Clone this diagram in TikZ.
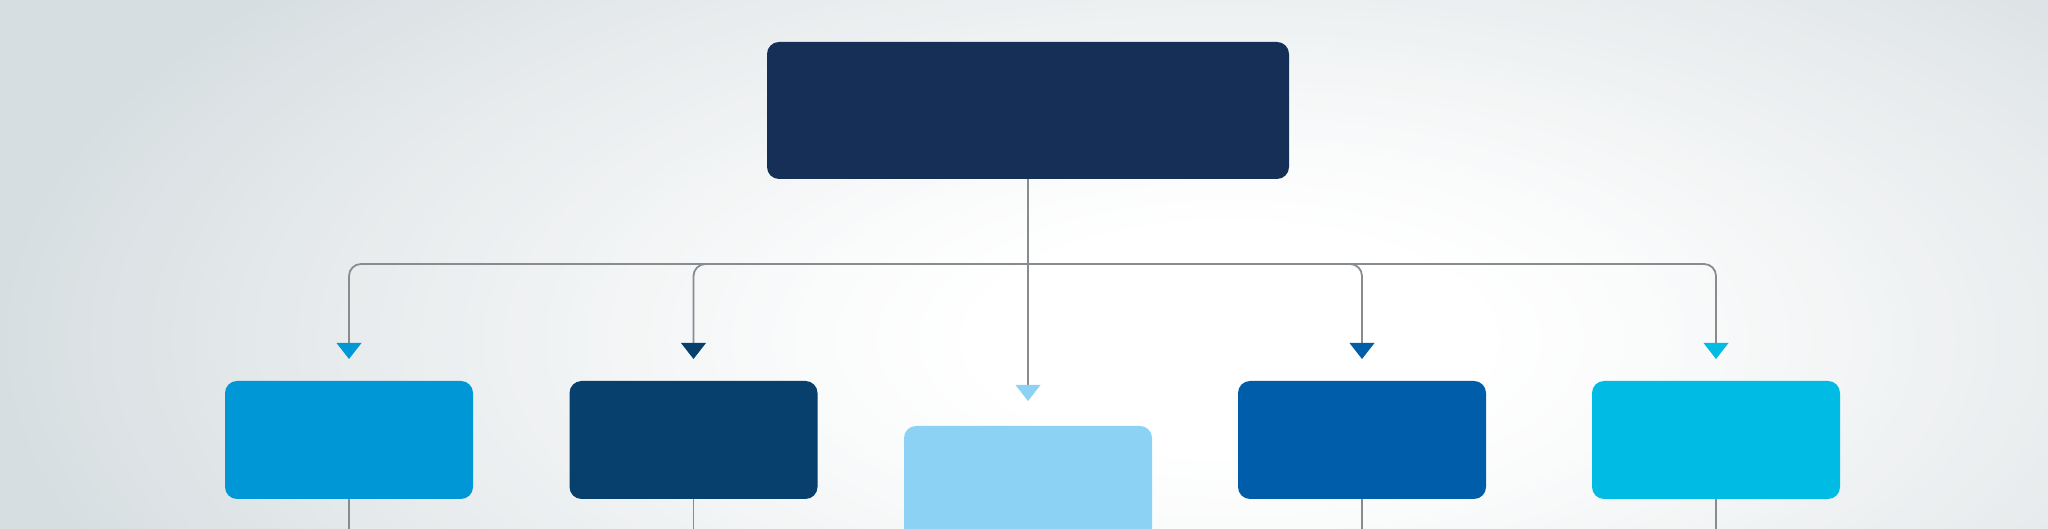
\documentclass[tikz,border=0pt]{standalone}
\usetikzlibrary{calc}
\definecolor{topc}{HTML}{152F57}
\definecolor{cA}{HTML}{0097D7}
\definecolor{cB}{HTML}{07406D}
\definecolor{cC}{HTML}{8CD2F4}
\definecolor{cD}{HTML}{005DAA}
\definecolor{cE}{HTML}{00BBE3}
\definecolor{linec}{HTML}{878C91}
\definecolor{bgout}{HTML}{D7DEE1}
\tikzset{
  box/.style={rectangle, rounded corners=12pt, inner sep=0pt, draw=none},
  topbox/.style={box, fill=topc, minimum width=522pt, minimum height=137pt},
  childbox/.style={box, minimum width=248pt, minimum height=118pt},
  conn/.style={draw=linec, line width=1.8pt}
}
\newcommand{\droptri}[2]{\fill[#2] ($(#1)+(-12.5,0)$) -- ($(#1)+(12.5,0)$) -- ($(#1)+(0,-16)$) -- cycle;}
\begin{document}
\begin{tikzpicture}[x=1pt,y=1pt]
\useasboundingbox (0,0) rectangle (2048,529);
\begin{scope}
\clip (0,0) rectangle (2048,529);
\fill[bgout] (0,0) rectangle (2048,529);
\foreach \i in {1,...,64}{
  \pgfmathsetmacro\s{1.06*(1-\i/64)+0.001}
  \pgfmathsetmacro\f{100*min(pow(max((\s-0.2)/0.8,0.001),1.2),1)}
  \fill[bgout!\f!white] (1230,189) ellipse [x radius=1250*\s, y radius=560*\s];
}
\node[topbox] (top) at (1028,418.5) {};
\node[childbox, fill=cA] (b1) at (349,89) {};
\node[childbox, fill=cB] (b2) at (693.5,89) {};
\node[childbox, fill=cC, minimum height=160pt] (b3) at (1028,23) {};
\node[childbox, fill=cD] (b4) at (1362,89) {};
\node[childbox, fill=cE] (b5) at (1716,89) {};
\coordinate (bus) at (1028,265);
\coordinate (a1) at (349,186);
\coordinate (a2) at (693.5,186);
\coordinate (a3) at (1028,144);
\coordinate (a4) at (1362,186);
\coordinate (a5) at (1716,186);
\coordinate (bot) at (1028,-5);
% connectors
\draw[conn] (top.south) -- (a3);
\draw[conn, rounded corners=12pt] (a1) -- (a1 |- bus) -- (a5 |- bus) -- (a5);
\draw[conn, rounded corners=12pt] ($(a2 |- bus)+(20,0)$) -- (a2 |- bus) -- (a2);
\draw[conn, rounded corners=12pt] ($(a4 |- bus)+(-20,0)$) -- (a4 |- bus) -- (a4);
\draw[conn] (b1.south) -- (b1.south |- bot);
\draw[conn] (b2.south) -- (b2.south |- bot);
\draw[conn] (b4.south) -- (b4.south |- bot);
\draw[conn] (b5.south) -- (b5.south |- bot);
% arrow heads
\droptri{a1}{cA}
\droptri{a2}{cB}
\droptri{a3}{cC}
\droptri{a4}{cD}
\droptri{a5}{cE}
\end{scope}
\end{tikzpicture}
\end{document}
